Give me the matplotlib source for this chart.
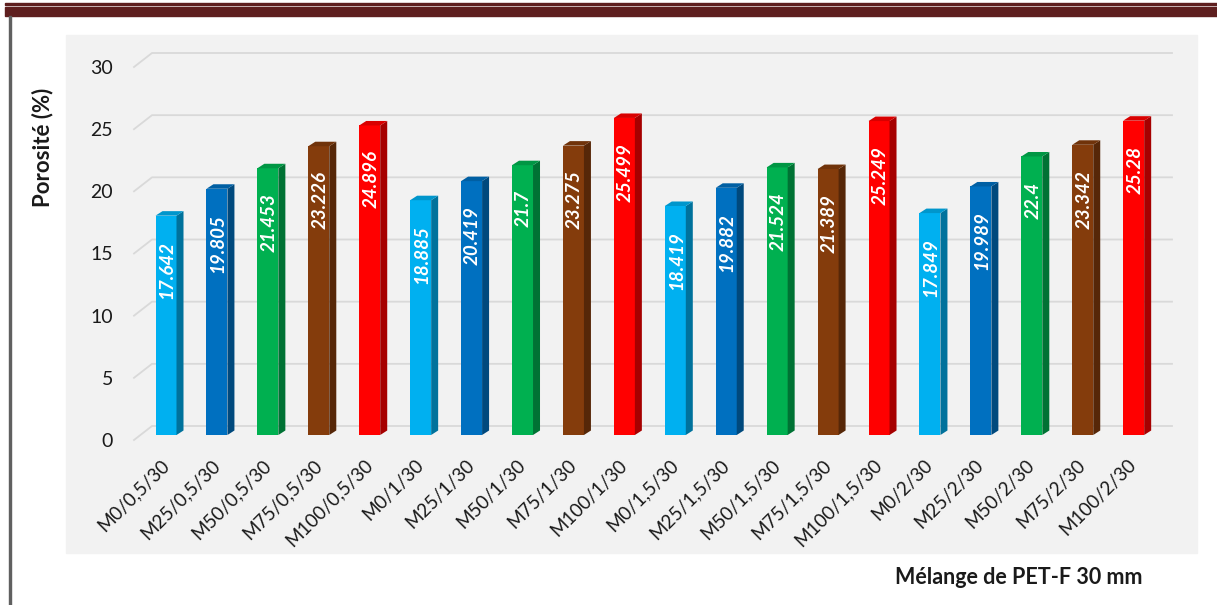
import matplotlib.pyplot as plt
from matplotlib.patches import Rectangle, Polygon
import matplotlib.colors as mcolors

plt.rcParams['font.family'] = ['Lato', 'DejaVu Sans']

# données
melanges = ['M0/0,5/30', 'M25/0,5/30', 'M50/0,5/30', 'M75/0,5/30', 'M100/0,5/30',
            'M0/1/30', 'M25/1/30', 'M50/1/30', 'M75/1/30', 'M100/1/30',
            'M0/1,5/30', 'M25/1,5/30', 'M50/1,5/30', 'M75/1,5/30', 'M100/1,5/30',
            'M0/2/30', 'M25/2/30', 'M50/2/30', 'M75/2/30', 'M100/2/30']
porosite = [17.642, 19.805, 21.453, 23.226, 24.896,
            18.885, 20.419, 21.7, 23.275, 25.499,
            18.419, 19.882, 21.524, 21.389, 25.249,
            17.849, 19.989, 22.4, 23.342, 25.28]
couleurs = ['#00B0F0', '#0070C0', '#00B050', '#843C0C', '#FF0000'] * 4


def shade(c, f):
    r, g, b = mcolors.to_rgb(c)
    return (r * f, g * f, b * f)


W, H = 1217, 605
fig = plt.figure(figsize=(W / 100, H / 100), dpi=100)

# cadre de la page
fig.patches.append(Rectangle((5 / W, 1 - 5 / H), 1, 2 / H, transform=fig.transFigure,
                             color='#5E1F1F', zorder=0))
fig.patches.append(Rectangle((5 / W, 1 - 15.5 / H), 1, 8 / H, transform=fig.transFigure,
                             color='#5E1F1F', zorder=0))
fig.patches.append(Rectangle((9 / W, 0), 2 / W, 1 - 15.5 / H, transform=fig.transFigure,
                             color='#606060', zorder=0))
# fond du graphique
fig.patches.append(Rectangle((66 / W, 1 - 553 / H), (1197 - 66) / W, (553 - 35) / H,
                             transform=fig.transFigure, color='#F2F2F2', zorder=0))

ax = fig.add_axes([134 / W, 1 - 440 / H, (1172 - 134) / W, (440 - 67) / H])
ax.set_zorder(2)
ax.patch.set_alpha(0)
xmin, xmax = (134 - 166) / 50.93, (1172 - 166) / 50.93
ax.set_xlim(xmin, xmax)
ax.set_ylim(0, 30)

px = 1 / 50.93          # 1 pixel en x
py = 30 / 373           # 1 pixel en y
back_dx, back_dy = 18 * px, 14 * py

# grille 3D (mur du fond)
for v in range(0, 31, 5):
    ax.plot([xmin, xmin + back_dx, xmax], [v, v + back_dy, v + back_dy],
            color='#D9D9D9', lw=1.3, clip_on=False, zorder=1)

# barres 3D
hw = 10.5 * px
bx, by = 7 * px, 4.5 * py
base = 5 * py
for i, (v, c) in enumerate(zip(porosite, couleurs)):
    top = v + base
    ax.add_patch(Rectangle((i - hw, base), 2 * hw, v, facecolor=c, edgecolor='none',
                           zorder=3, clip_on=False))
    ax.add_patch(Polygon([(i + hw, base), (i + hw + bx, base + by), (i + hw + bx, top + by),
                          (i + hw, top)], closed=True, facecolor=shade(c, 0.65),
                         edgecolor='none', zorder=3, clip_on=False))
    ax.add_patch(Polygon([(i - hw, top), (i + hw, top), (i + hw + bx, top + by),
                          (i - hw + bx, top + by)], closed=True, facecolor=shade(c, 0.85),
                         edgecolor='none', zorder=3, clip_on=False))
    ax.text(i + 1 * px, top - 25 * py, str(v), rotation=90, ha='center', va='top',
            color='white', fontsize=13.5, fontweight='bold', fontstyle='italic', zorder=4)

ax.set_yticks(range(0, 31, 5))
ax.set_xticks(range(len(melanges)))
ax.set_xticklabels(melanges, rotation=45, ha='right', va='center', rotation_mode='anchor')
ax.tick_params(axis='y', length=0, pad=15, labelsize=14, labelcolor='#1A1A1A')
ax.tick_params(axis='x', length=0, pad=16, labelsize=13.5, labelcolor='#1A1A1A')
for s in ax.spines.values():
    s.set_visible(False)

fig.text(43 / W, 1 - 147 / H, 'Porosité (%)', rotation=90, ha='center', va='center',
         fontsize=16, fontweight='bold', color='#1A1A1A')
fig.text(1019 / W, 1 - 578 / H, 'Mélange de PET-F 30 mm', ha='center', va='center',
         fontsize=15.5, fontweight='bold', color='#1A1A1A')

fig.savefig('out.png', dpi=100)
